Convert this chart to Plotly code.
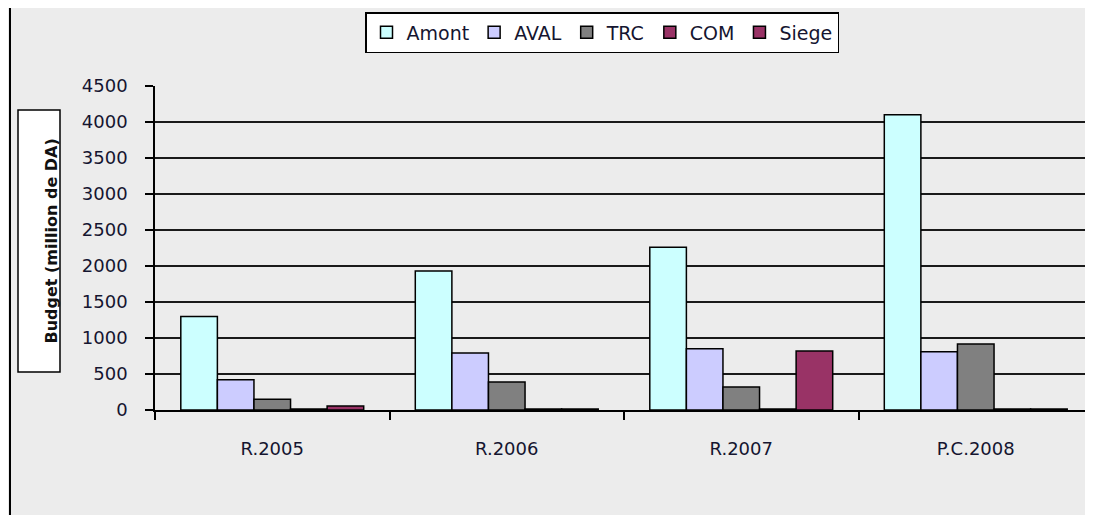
import plotly.graph_objects as go

categories = ["R.2005", "R.2006", "R.2007", "P.C.2008"]
series_names = ["Amont", "AVAL", "TRC", "COM", "Siege"]
amont = [1300, 1930, 2260, 4100]
aval = [420, 790, 850, 810]
trc = [150, 390, 320, 915]
com = [15, 15, 15, 15]
siege = [55, 15, 820, 15]
y_ticks = [0, 500, 1000, 1500, 2000, 2500, 3000, 3500, 4000, 4500]

colors = ["#CCFFFF", "#CCCCFF", "#808080", "#993366", "#993366"]
values = [amont, aval, trc, com, siege]

fig = go.Figure()
for name, vals, col in zip(series_names, values, colors):
    fig.add_trace(go.Bar(
        x=categories, y=vals, name=name,
        marker=dict(color=col, line=dict(color="black", width=1.5)),
    ))

OFF = 8  # page body margin
W, H = 1093 - OFF, 515 - OFF
L, R, T, B = 155 - OFF, 0, 86 - OFF, 105
pw = W - L - R
ph = H - T - B

def px_x(x):
    return (x - OFF - L) / pw

def px_y(y):
    return (H - B - (y - OFF)) / ph

font_family = "DejaVu Sans, Verdana, sans-serif"
txt_col = "#151530"

fig.update_layout(
    width=W, height=H,
    margin=dict(l=L, r=R, t=T, b=B),
    paper_bgcolor="#ececec",
    plot_bgcolor="#ececec",
    barmode="group",
    bargap=0.22,
    bargroupgap=0,
    font=dict(family=font_family, size=18, color=txt_col),
    showlegend=True,
    legend=dict(
        orientation="h",
        x=px_x(365), y=px_y(12), xanchor="left", yanchor="top",
        bgcolor="white", bordercolor="black", borderwidth=1.5,
        font=dict(size=19, color=txt_col),
        itemwidth=30, tracegroupgap=0,
    ),
    xaxis=dict(
        type="category",
        range=[-0.5, 3.5],
        showgrid=False,
        showline=True, linecolor="black", linewidth=1.5,
        ticks="outside", tickson="boundaries", ticklen=8, tickcolor="black", tickwidth=1.5,
        tickfont=dict(size=18, color=txt_col),
        ticklabelstandoff=22,
        zeroline=False,
    ),
    yaxis=dict(
        range=[0, 4500],
        tickvals=y_ticks,
        showgrid=True, gridcolor="#1a1a1a", gridwidth=2,
        showline=True, linecolor="black", linewidth=1.5,
        ticks="outside", ticklen=8, tickcolor="black", tickwidth=1.5,
        tickfont=dict(size=18, color=txt_col),
        ticklabelstandoff=14,
        zeroline=False,
    ),
)

# boxed y-axis title
fig.add_shape(
    type="rect", xref="paper", yref="paper",
    x0=px_x(18), x1=px_x(60), y0=px_y(372), y1=px_y(110),
    line=dict(color="black", width=1.5), fillcolor="white", layer="above",
)
fig.add_annotation(
    xref="paper", yref="paper",
    x=px_x(39), y=px_y(241),
    text="<b>Budget (million de DA)</b>",
    textangle=-90, showarrow=False,
    font=dict(size=16, color="#111111"),
)

# left frame line
fig.add_shape(
    type="line", xref="paper", yref="paper",
    x0=px_x(10), x1=px_x(10), y0=px_y(515), y1=px_y(0),
    line=dict(color="black", width=2),
)

fig.write_html("out.html")
